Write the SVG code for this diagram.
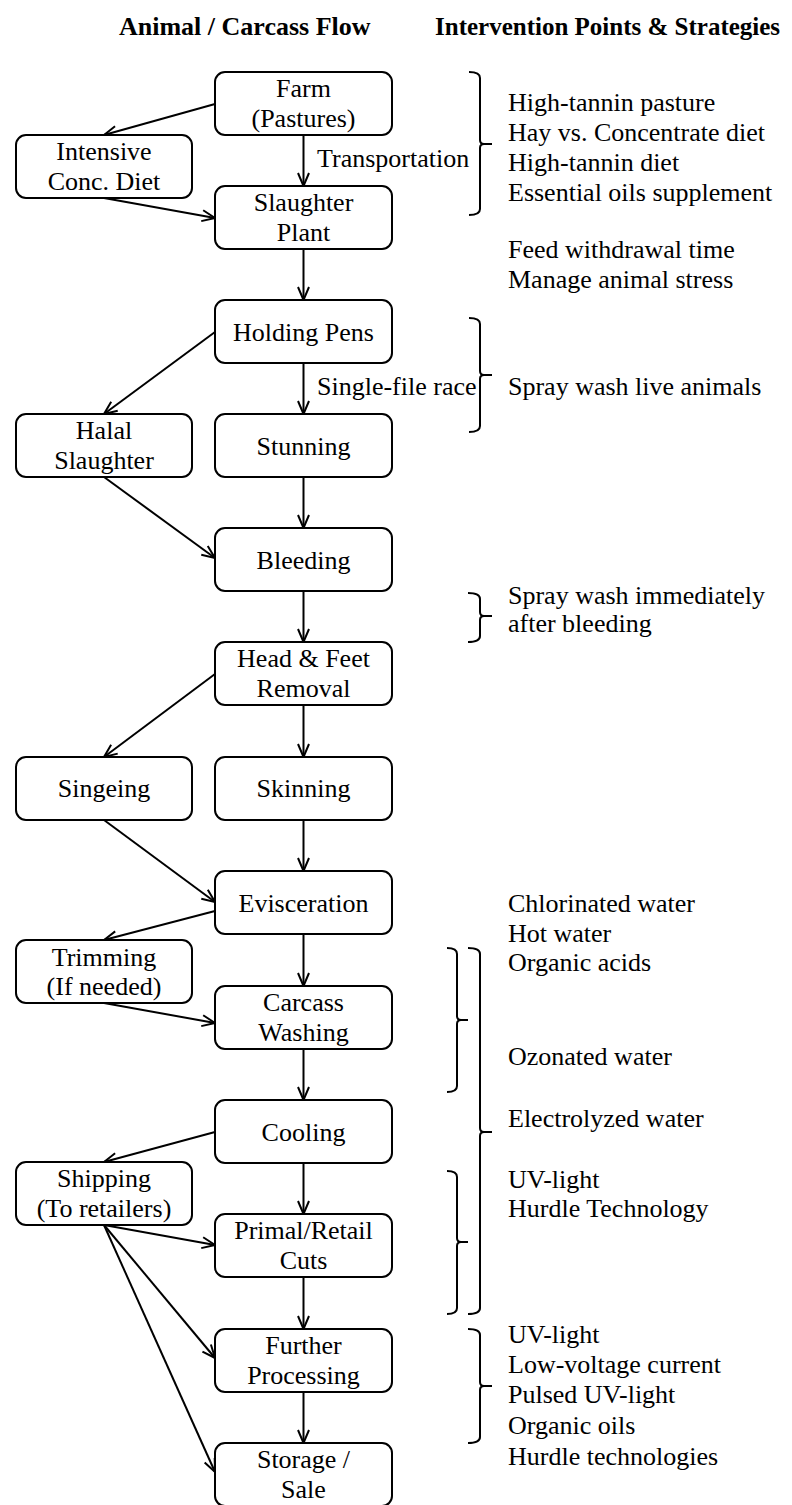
<svg xmlns="http://www.w3.org/2000/svg" width="792" height="1505" viewBox="0 0 792 1505">
<defs>
<style>
.box{fill:#fff;stroke:#000;stroke-width:2}
.t{font-family:"Liberation Serif","Times New Roman",serif;font-size:26px;fill:#000}
.c{text-anchor:middle}
.h{font-family:"Liberation Serif","Times New Roman",serif;font-size:26px;font-weight:bold;fill:#000}
.h2{font-family:"Liberation Serif","Times New Roman",serif;font-size:25px;font-weight:bold;fill:#000}
.ln{fill:none;stroke:#000;stroke-width:2;marker-end:url(#arr)}
.br{fill:none;stroke:#000;stroke-width:2}
</style>
<marker id="arr" viewBox="-15 -8 17 16" refX="0" refY="0" markerWidth="17" markerHeight="16" markerUnits="userSpaceOnUse" orient="auto">
<path d="M-13,-5.5 L0,0 L-13,5.5" fill="none" stroke="#000" stroke-width="2"/>
</marker>
</defs>
<rect width="792" height="1505" fill="#fff"/>
<g id="headers">
<text class="h" x="119" y="35">Animal / Carcass Flow</text>
<text class="h2" x="435" y="35">Intervention Points &amp; Strategies</text>
</g>
<g id="connectors">
<line class="ln" x1="215" y1="104" x2="104" y2="135"/>
<line class="ln" x1="303.5" y1="135" x2="303.5" y2="186"/>
<line class="ln" x1="104" y1="198" x2="215" y2="218"/>
<line class="ln" x1="303.5" y1="249" x2="303.5" y2="300"/>
<line class="ln" x1="215" y1="332" x2="104" y2="414"/>
<line class="ln" x1="303.5" y1="363" x2="303.5" y2="414"/>
<line class="ln" x1="104" y1="477" x2="215" y2="558"/>
<line class="ln" x1="303.5" y1="477" x2="303.5" y2="528"/>
<line class="ln" x1="303.5" y1="591" x2="303.5" y2="642"/>
<line class="ln" x1="215" y1="674" x2="104" y2="757"/>
<line class="ln" x1="303.5" y1="705" x2="303.5" y2="757"/>
<line class="ln" x1="104" y1="820" x2="215" y2="902"/>
<line class="ln" x1="303.5" y1="820" x2="303.5" y2="871"/>
<line class="ln" x1="215" y1="911" x2="104" y2="940"/>
<line class="ln" x1="303.5" y1="934" x2="303.5" y2="986"/>
<line class="ln" x1="104" y1="1003" x2="215" y2="1023"/>
<line class="ln" x1="303.5" y1="1049" x2="303.5" y2="1100"/>
<line class="ln" x1="215" y1="1132" x2="104" y2="1162"/>
<line class="ln" x1="303.5" y1="1163" x2="303.5" y2="1214"/>
<line class="ln" x1="104" y1="1225" x2="215" y2="1245"/>
<line class="ln" x1="104" y1="1225" x2="215" y2="1358"/>
<line class="ln" x1="104" y1="1225" x2="215" y2="1472"/>
<line class="ln" x1="303.5" y1="1277" x2="303.5" y2="1329"/>
<line class="ln" x1="303.5" y1="1392" x2="303.5" y2="1443"/>
<text class="t" x="317" y="167">Transportation</text>
<text class="t" x="317" y="395">Single-file  race</text>
</g>
<g id="farm"><rect class="box" x="215" y="72" width="177" height="63" rx="10"/><text class="t c" x="303.5" y="97">Farm</text><text class="t c" x="303.5" y="127">(Pastures)</text></g>
<g id="intensive"><rect class="box" x="16" y="135" width="176" height="63" rx="10"/><text class="t c" x="104" y="160">Intensive</text><text class="t c" x="104" y="190">Conc. Diet</text></g>
<g id="slaughter"><rect class="box" x="215" y="186" width="177" height="63" rx="10"/><text class="t c" x="303.5" y="211">Slaughter</text><text class="t c" x="303.5" y="241">Plant</text></g>
<g id="holding"><rect class="box" x="215" y="300" width="177" height="63" rx="10"/><text class="t c" x="303.5" y="341">Holding Pens</text></g>
<g id="halal"><rect class="box" x="16" y="414" width="176" height="63" rx="10"/><text class="t c" x="104" y="439">Halal</text><text class="t c" x="104" y="469">Slaughter</text></g>
<g id="stunning"><rect class="box" x="215" y="414" width="177" height="63" rx="10"/><text class="t c" x="303.5" y="455">Stunning</text></g>
<g id="bleeding"><rect class="box" x="215" y="528" width="177" height="63" rx="10"/><text class="t c" x="303.5" y="569">Bleeding</text></g>
<g id="headfeet"><rect class="box" x="215" y="642" width="177" height="63" rx="10"/><text class="t c" x="303.5" y="667">Head &amp; Feet</text><text class="t c" x="303.5" y="697">Removal</text></g>
<g id="singeing"><rect class="box" x="16" y="757" width="176" height="63" rx="10"/><text class="t c" x="104" y="797">Singeing</text></g>
<g id="skinning"><rect class="box" x="215" y="757" width="177" height="63" rx="10"/><text class="t c" x="303.5" y="797">Skinning</text></g>
<g id="evisceration"><rect class="box" x="215" y="871" width="177" height="63" rx="10"/><text class="t c" x="303.5" y="912">Evisceration</text></g>
<g id="trimming"><rect class="box" x="16" y="940" width="176" height="63" rx="10"/><text class="t c" x="104" y="966">Trimming</text><text class="t c" x="104" y="995">(If needed)</text></g>
<g id="carcass"><rect class="box" x="215" y="986" width="177" height="63" rx="10"/><text class="t c" x="303.5" y="1011">Carcass</text><text class="t c" x="303.5" y="1041">Washing</text></g>
<g id="cooling"><rect class="box" x="215" y="1100" width="177" height="63" rx="10"/><text class="t c" x="303.5" y="1141">Cooling</text></g>
<g id="shipping"><rect class="box" x="16" y="1162" width="176" height="63" rx="10"/><text class="t c" x="104" y="1187">Shipping</text><text class="t c" x="104" y="1217">(To retailers)</text></g>
<g id="primal"><rect class="box" x="215" y="1214" width="177" height="63" rx="10"/><text class="t c" x="303.5" y="1239">Primal/Retail</text><text class="t c" x="303.5" y="1269">Cuts</text></g>
<g id="further"><rect class="box" x="215" y="1329" width="177" height="63" rx="10"/><text class="t c" x="303.5" y="1354">Further</text><text class="t c" x="303.5" y="1384">Processing</text></g>
<g id="storage"><rect class="box" x="215" y="1443" width="177" height="63" rx="10"/><text class="t c" x="303.5" y="1468">Storage /</text><text class="t c" x="303.5" y="1498">Sale</text></g>
<g id="brackets">
<path class="br" d="M469,72 Q480,72 480,78 V140 Q480,144 484,144 H492 M484,144 Q480,144 480,148 V209 Q480,215 469,215"/>
<path class="br" d="M469,318 Q480,318 480,324 V371 Q480,375 484,375 H492 M484,375 Q480,375 480,379 V426 Q480,432 469,432"/>
<path class="br" d="M468,593 Q480,593 480,599 V612 Q480,616 484,616 H492 M484,616 Q480,616 480,620 V636 Q480,642 468,642"/>
<path class="br" d="M447,948 Q457,948 457,954 V1016 Q457,1020 461,1020 H468 M461,1020 Q457,1020 457,1024 V1086 Q457,1092 447,1092"/>
<path class="br" d="M468,948 Q480,948 480,954 V1128 Q480,1132 484,1132 H492 M484,1132 Q480,1132 480,1136 V1308 Q480,1314 468,1314"/>
<path class="br" d="M447,1171 Q457,1171 457,1177 V1238 Q457,1242 461,1242 H468 M461,1242 Q457,1242 457,1246 V1308 Q457,1314 447,1314"/>
<path class="br" d="M468,1329 Q480,1329 480,1335 V1382 Q480,1386 484,1386 H492 M484,1386 Q480,1386 480,1390 V1437 Q480,1443 468,1443"/>
</g>
<g id="strategies">
<text class="t" x="508" y="111">High-tannin pasture</text>
<text class="t" x="508" y="141">Hay vs. Concentrate diet</text>
<text class="t" x="508" y="171">High-tannin diet</text>
<text class="t" x="508" y="201">Essential oils supplement</text>
<text class="t" x="508" y="258">Feed withdrawal time</text>
<text class="t" x="508" y="288">Manage animal stress</text>
<text class="t" x="508" y="395">Spray wash live  animals</text>
<text class="t" x="508" y="604">Spray wash immediately</text>
<text class="t" x="508" y="632">after bleeding</text>
<text class="t" x="508" y="912">Chlorinated water</text>
<text class="t" x="508" y="942">Hot water</text>
<text class="t" x="508" y="971">Organic acids</text>
<text class="t" x="508" y="1065">Ozonated water</text>
<text class="t" x="508" y="1127">Electrolyzed water</text>
<text class="t" x="508" y="1188">UV-light</text>
<text class="t" x="508" y="1217">Hurdle Technology</text>
<text class="t" x="508" y="1343">UV-light</text>
<text class="t" x="508" y="1373">Low-voltage current</text>
<text class="t" x="508" y="1403">Pulsed UV-light</text>
<text class="t" x="508" y="1434">Organic oils</text>
<text class="t" x="508" y="1465">Hurdle technologies</text>
</g>
</svg>
